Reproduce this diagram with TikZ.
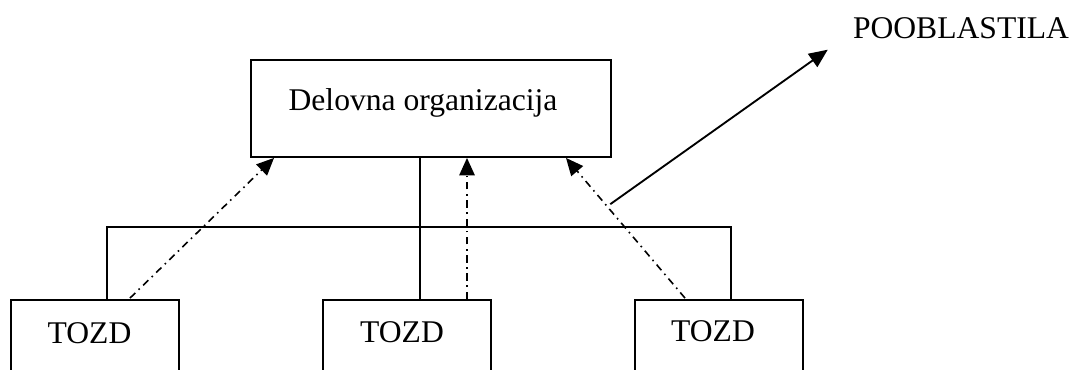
\documentclass[tikz,border=0pt]{standalone}
\usepackage{fontspec}
\setmainfont{Liberation Serif}
\usepackage{tikz}
\usetikzlibrary{shapes,arrows,arrows.meta,positioning,calc}

\begin{document}
\begin{tikzpicture}[x=0.75pt,y=-0.75pt,
	box/.style={draw, line width=1.4pt, inner sep=0pt},
	txt/.style={inner sep=0pt, anchor=base, font=\fontsize{23.7pt}{28pt}\selectfont},
	dd/.style={line width=1.2pt, dash pattern=on 5.5pt off 3.5pt on 1.2pt off 3.5pt, -{Triangle[length=13pt,width=11.5pt]}}]
	\useasboundingbox (0,0) rectangle (1073,369);
	\clip (0,0) rectangle (1073,369);
	% upper box
	\node[box, minimum width=270pt, minimum height=72.75pt] (do) at (431,108.5) {};
	\node[txt] (dotxt) at (423,110) {Delovna organizacija};
	% lower boxes
	\node[box, minimum width=126pt, minimum height=105pt] (t1) at (95,370) {};
	\node[box, minimum width=126pt, minimum height=105pt] (t2) at (407,370) {};
	\node[box, minimum width=126pt, minimum height=105pt] (t3) at (719,370) {};
	\node[txt] (t1txt) at (89.5,343) {TOZD};
	\node[txt] (t2txt) at (402,342) {TOZD};
	\node[txt] (t3txt) at (713,341) {TOZD};
	\node[txt] (pob) at (961,38) {POOBLASTILA};
	% solid lines
	\draw[line width=1.4pt] ($(t1.north)+(12,0)$) -- ++(0,-72) -| ($(t3.north)+(12,0)$);
	\draw[line width=1.4pt] ($(do.south)+(-11,0)$) -- ($(t2.north)+(13,0)$);
	% dash-dot arrows
	\draw[dd] ($(t1.north)+(35,-1)$) -- ($(do.south)+(-157,0)$);
	\draw[dd] ($(t2.north)+(60,0)$) -- ($(do.south)+(36,0)$);
	\draw[dd] ($(t3.north)+(-34,-1)$) -- coordinate[pos=0.67] (p) ($(do.south)+(135,0)$);
	% pooblastila
	\coordinate (ptip) at ($(pob.west)+(-25,22)$);
	\draw[line width=1.4pt, -{Triangle[length=14pt,width=12pt]}] ($(p)+(5,0)$) -- (ptip);
\end{tikzpicture}
\end{document}
